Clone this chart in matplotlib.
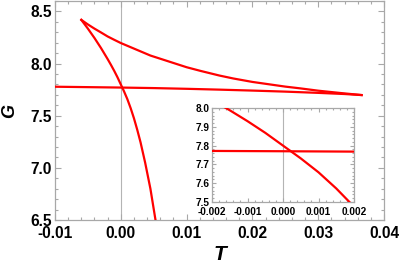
#!/usr/bin/env python3
"""Swallowtail G(T) curve with a zoomed inset around the crossing point."""

import matplotlib

matplotlib.use("Agg")
import matplotlib.pyplot as plt
from matplotlib.ticker import FormatStrFormatter, MultipleLocator

# small branch (nearly flat), from left edge to right cusp
T_small = [-0.010, -0.005, 0.000, 0.005, 0.010, 0.015, 0.020, 0.025, 0.030, 0.034, 0.0366]
G_small = [7.778, 7.774, 7.770, 7.765, 7.758, 7.750, 7.741, 7.731, 7.719, 7.708, 7.698]

# intermediate branch, left cusp -> right cusp
T_mid = [-0.0060, -0.0050, -0.0040, -0.0030, -0.0020, -0.0010, 0.0, 0.0045, 0.0100, 0.0121,
         0.0150, 0.0171, 0.0200, 0.0250, 0.0273, 0.0300, 0.0335, 0.0366]
G_mid = [8.419, 8.375, 8.335, 8.298, 8.260, 8.228, 8.197, 8.077, 7.965, 7.930,
         7.885, 7.857, 7.824, 7.779, 7.762, 7.740, 7.717, 7.698]

# large branch, left cusp going steeply down
T_large = [-0.0060, -0.0050, -0.0040, -0.0030, -0.0020, -0.0015, -0.0010, -0.0005, 0.0,
           0.0005, 0.0010, 0.0015, 0.0020, 0.0025, 0.0030, 0.0037, 0.0045, 0.0053]
G_large = [8.419, 8.335, 8.245, 8.148, 8.043, 7.988, 7.930, 7.868, 7.800,
           7.732, 7.658, 7.572, 7.475, 7.365, 7.245, 7.050, 6.800, 6.490]

MAIN_XTICKS = [-0.01, 0.00, 0.01, 0.02, 0.03, 0.04]
MAIN_YTICKS = [6.5, 7.0, 7.5, 8.0, 8.5]
INSET_XTICKS = [-0.002, -0.001, 0.000, 0.001, 0.002]
INSET_YTICKS = [7.5, 7.6, 7.7, 7.8, 7.9, 8.0]

FRAME = "#a8a8a8"
RED = "#ff0000"

plt.rcParams["font.family"] = ["Liberation Sans", "DejaVu Sans"]


def style_frame(ax, size, major_len, minor_len):
    for sp in ax.spines.values():
        sp.set_color(FRAME)
        sp.set_linewidth(0.9)
    ax.tick_params(which="both", direction="in", top=True, right=True,
                   color=FRAME, width=0.8, labelsize=size)
    ax.tick_params(which="major", length=major_len, pad=2)
    ax.tick_params(which="minor", length=minor_len)
    for lab in ax.get_xticklabels() + ax.get_yticklabels():
        lab.set_fontweight("bold")


def draw_curves(ax):
    ax.axvline(0.0, color="#b4b4b4", lw=0.8, zorder=1)
    for T, G in ((T_small, G_small), (T_mid, G_mid), (T_large, G_large)):
        ax.plot(T, G, color=RED, lw=1.6, solid_joinstyle="round", zorder=3)


fig = plt.figure(figsize=(4.0, 2.71), dpi=100)
ax = fig.add_axes([55 / 400, 51 / 271, 329 / 400, 219 / 271])
draw_curves(ax)
ax.set_xlim(-0.01, 0.04)
ax.set_ylim(6.5, 8.6)
ax.set_xticks(MAIN_XTICKS)
ax.set_yticks(MAIN_YTICKS)
ax.xaxis.set_minor_locator(MultipleLocator(0.002))
ax.yaxis.set_minor_locator(MultipleLocator(0.1))
ax.xaxis.set_major_formatter(FormatStrFormatter("%.2f"))
ax.yaxis.set_major_formatter(FormatStrFormatter("%.1f"))
style_frame(ax, 11.2, 4, 2)
ax.tick_params(axis="x", pad=4.5)
ax.set_xlabel("T", fontsize=15, fontweight="bold", fontstyle="italic", labelpad=3)
ax.set_ylabel("G", fontsize=13, fontweight="bold", fontstyle="italic", labelpad=9)

ins = fig.add_axes([212 / 400, 69 / 271, 142 / 400, 94 / 271])
draw_curves(ins)
ins.set_xlim(-0.002, 0.002)
ins.set_ylim(7.5, 8.0)
ins.set_xticks(INSET_XTICKS)
ins.set_yticks(INSET_YTICKS)
ins.xaxis.set_minor_locator(MultipleLocator(0.0002))
ins.yaxis.set_minor_locator(MultipleLocator(0.02))
ins.xaxis.set_major_formatter(FormatStrFormatter("%.3f"))
ins.yaxis.set_major_formatter(FormatStrFormatter("%.1f"))
style_frame(ins, 7.2, 3, 1.5)
ins.tick_params(axis="x", pad=3.5)
ins.set_facecolor("white")

fig.savefig("out.png", dpi=100)
